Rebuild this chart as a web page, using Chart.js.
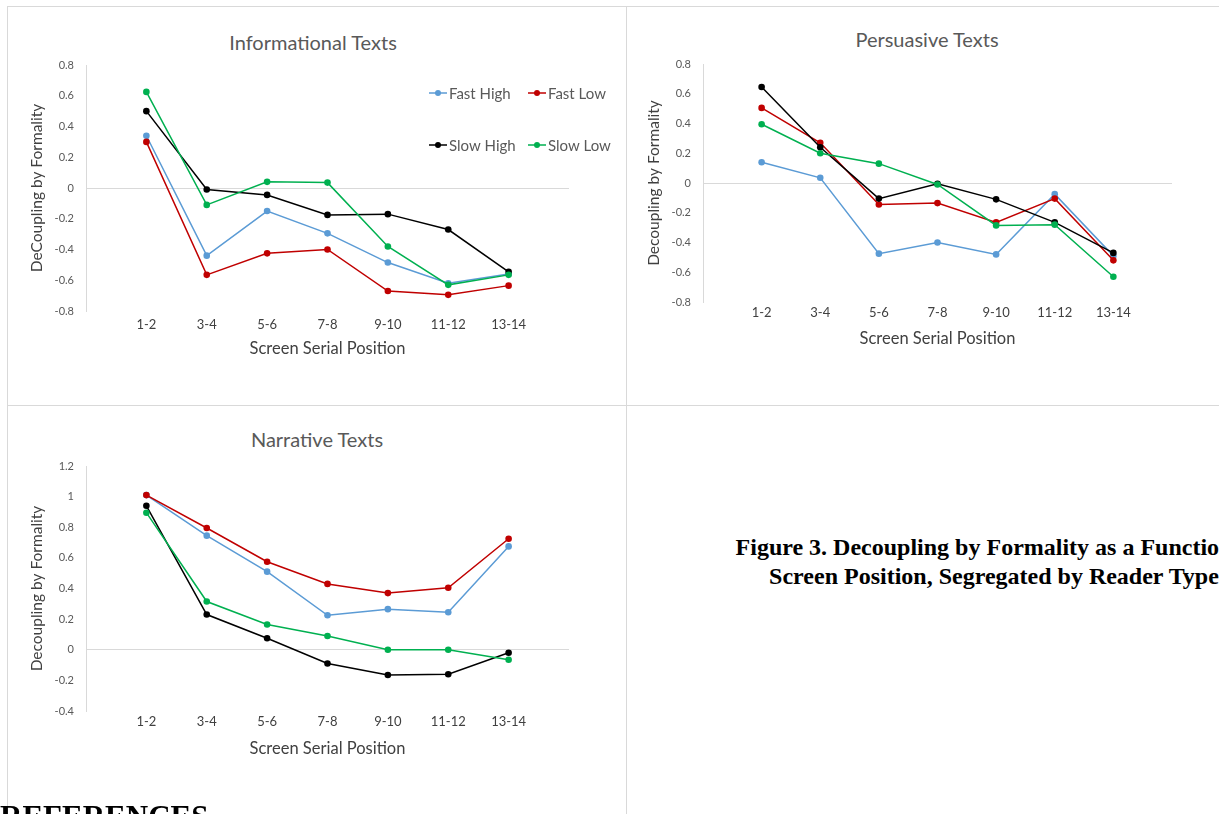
<!DOCTYPE html>
<html>
<head>
<meta charset="utf-8">
<script src="https://cdn.jsdelivr.net/npm/chart.js@4.4.0/dist/chart.umd.min.js"></script>
<style>
  body { margin:0; width:1219px; height:814px; overflow:hidden; background:#fff; position:relative; font-family:Lato, sans-serif; }
  .rule { position:absolute; background:#d9d9d9; }
  canvas { position:absolute; }
  .ttl { position:absolute; transform:translate(-50%,-50%); font-size:20px; color:#595959; white-space:nowrap; }
  .caption { position:absolute; left:997px; top:533px; transform:translateX(-50%); font:bold 24px "Liberation Serif", serif; line-height:29px; text-align:center; white-space:nowrap; color:#000; }
  .refs { position:absolute; left:0; top:801px; font:bold 31px "Liberation Serif", serif; line-height:1; color:#000; }
</style>
</head>
<body>
<div class="rule" style="left:7px;top:6px;width:1212px;height:1px"></div>
<div class="rule" style="left:7px;top:6px;width:1px;height:808px"></div>
<div class="rule" style="left:626px;top:6px;width:1px;height:808px"></div>
<div class="rule" style="left:7px;top:405px;width:1212px;height:1px"></div>

<div class="ttl" style="left:313px;top:42px">Informational Texts</div>
<div class="ttl" style="left:927px;top:39px">Persuasive Texts</div>
<div class="ttl" style="left:317px;top:439px">Narrative Texts</div>

<canvas id="info" width="619" height="400" style="left:7px;top:6px"></canvas>
<canvas id="pers" width="593" height="399" style="left:626px;top:6px"></canvas>
<canvas id="narr" width="619" height="408" style="left:7px;top:406px"></canvas>

<div class="caption">Figure 3. Decoupling by Formality as a Function of<br>Screen Position, Segregated by Reader Type.</div>
<div class="refs">REFERENCES</div>

<script>
var positions = ['1-2', '3-4', '5-6', '7-8', '9-10', '11-12', '13-14'];
var readerTypes = ['Fast High', 'Fast Low', 'Slow High', 'Slow Low'];
var readerColors = ['#5b9bd5', '#c00000', '#000000', '#00b050'];

// Informational texts
var infoFastHigh = [0.34, -0.44, -0.15, -0.295, -0.485, -0.62, -0.56];
var infoFastLow  = [0.30, -0.565, -0.425, -0.40, -0.67, -0.695, -0.635];
var infoSlowHigh = [0.50, -0.01, -0.045, -0.175, -0.17, -0.27, -0.545];
var infoSlowLow  = [0.625, -0.11, 0.04, 0.035, -0.38, -0.63, -0.565];

// Persuasive texts
var persFastHigh = [0.14, 0.035, -0.475, -0.40, -0.48, -0.075, -0.49];
var persFastLow  = [0.505, 0.27, -0.145, -0.135, -0.265, -0.105, -0.52];
var persSlowHigh = [0.645, 0.24, -0.105, -0.005, -0.11, -0.265, -0.47];
var persSlowLow  = [0.395, 0.20, 0.13, -0.01, -0.285, -0.28, -0.63];

// Narrative texts
var narrFastHigh = [1.01, 0.745, 0.51, 0.225, 0.265, 0.245, 0.675];
var narrFastLow  = [1.01, 0.795, 0.575, 0.43, 0.37, 0.405, 0.725];
var narrSlowHigh = [0.94, 0.23, 0.075, -0.09, -0.165, -0.16, -0.02];
var narrSlowLow  = [0.895, 0.315, 0.165, 0.09, 0.0, 0.0, -0.065];

/**
  Legend drawn inside the plot: short line with a dot, two per row
*/
var lineLegend = {
  id: 'lineLegend',
  afterDraw: function(chart, args, opts) {
    if (!opts.display) return;
    var ctx = chart.ctx;
    ctx.save();
    ctx.font = '15px Lato';
    ctx.textBaseline = 'middle';
    chart.data.datasets.forEach(function(ds, i) {
      var x = opts.x + (i % 2) * opts.colGap;
      var y = opts.y + Math.floor(i / 2) * opts.rowGap;
      ctx.strokeStyle = ds.borderColor;
      ctx.lineWidth = 1.5;
      ctx.beginPath(); ctx.moveTo(x, y); ctx.lineTo(x + 18, y); ctx.stroke();
      ctx.fillStyle = ds.borderColor;
      ctx.beginPath(); ctx.arc(x + 9, y, 3, 0, Math.PI * 2); ctx.fill();
      ctx.fillStyle = '#595959';
      ctx.fillText(ds.label, x + 20, y + 1);
    });
    ctx.restore();
  }
};

function toPoints(values) {
  return values.map(function(v, i) { return {x: i + 1, y: v}; });
}

function makeChart(id, series, yTitle, yMin, yMax, g, legend) {
  var datasets = series.map(function(values, i) {
    return {
      label: readerTypes[i],
      data: toPoints(values),
      borderColor: readerColors[i],
      backgroundColor: readerColors[i],
      borderWidth: 1.5,
      pointRadius: 3.3,
      pointBorderWidth: 0,
      order: series.length - i
    };
  });
  return new Chart(document.getElementById(id).getContext('2d'), {
    type: 'line',
    data: {datasets: datasets},
    plugins: [lineLegend],
    options: {
      responsive: false,
      animation: false,
      devicePixelRatio: 1,
      layout: {padding: {left: 0, right: g.right, top: g.top, bottom: 0}},
      plugins: {
        legend: {display: false},
        tooltip: {enabled: false},
        lineLegend: legend || {display: false}
      },
      scales: {
        x: {
          type: 'linear', min: 0, max: 8,
          afterFit: function(s) { s.height = g.xHeight; },
          afterBuildTicks: function(s) {
            s.ticks = [];
            for (var k = 0; k <= 8; k++) s.ticks.push({value: k});
          },
          grid: {display: false, drawTicks: false},
          border: {display: false},
          ticks: {
            autoSkip: false, maxRotation: 0, padding: g.xTickPad,
            color: '#404040', font: {family: 'Lato', size: 13},
            callback: function(v) { return positions[v - 1] || ''; }
          },
          title: {display: true, text: 'Screen Serial Position', color: '#404040',
                  font: {family: 'Lato', size: 16.5}, padding: {top: 0, bottom: g.xTitlePad}}
        },
        y: {
          min: yMin, max: yMax,
          afterFit: function(s) { s.width = g.yWidth; },
          ticks: {
            stepSize: 0.2, padding: g.yTickPad, color: '#595959',
            font: {family: 'Lato', size: 11},
            callback: function(v) { return String(Math.round(v * 10) / 10); }
          },
          grid: {
            drawTicks: false,
            color: function(c) { return Math.abs(c.tick.value) < 1e-9 ? '#d9d9d9' : 'rgba(0,0,0,0)'; }
          },
          border: {display: true, color: '#d9d9d9'},
          title: {display: true, text: yTitle, color: '#404040',
                  font: {family: 'Lato', size: 15.5}, padding: {top: g.yTitlePad, bottom: 0}}
        }
      }
    }
  });
}

window.onload = function() {
  makeChart('info', [infoFastHigh, infoFastLow, infoSlowHigh, infoSlowLow],
    'DeCoupling by Formality', -0.8, 0.8,
    {top: 59, right: 57, yWidth: 79, xHeight: 95, yTitlePad: 20.5, yTickPad: 12, xTickPad: 6, xTitlePad: 47},
    {display: true, x: 422, y: 87, colGap: 99, rowGap: 52});
  makeChart('pers', [persFastHigh, persFastLow, persSlowHigh, persSlowLow],
    'Decoupling by Formality', -0.8, 0.8,
    {top: 58, right: 47, yWidth: 77, xHeight: 103, yTitlePad: 18.5, yTickPad: 12, xTickPad: 3, xTitlePad: 56});
  makeChart('narr', [narrFastHigh, narrFastLow, narrSlowHigh, narrSlowLow],
    'Decoupling by Formality', -0.4, 1.2,
    {top: 60, right: 57, yWidth: 79, xHeight: 103, yTitlePad: 20.5, yTickPad: 12, xTickPad: 3, xTitlePad: 55});
};
</script>
</body>
</html>
